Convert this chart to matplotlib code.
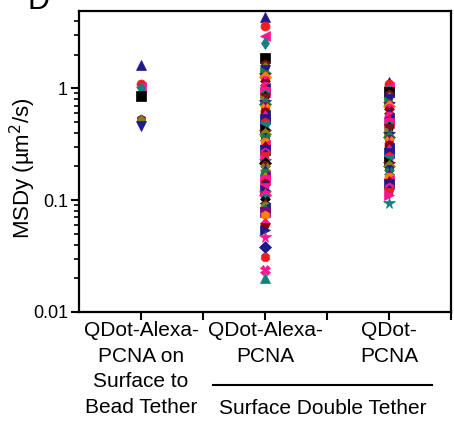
import matplotlib
matplotlib.use("Agg")
import matplotlib.pyplot as plt
from matplotlib.ticker import LogLocator, FixedLocator, NullFormatter
from matplotlib.lines import Line2D

plt.rcParams['font.family'] = ['Liberation Sans', 'DejaVu Sans']

categories = ["QDot-Alexa-\nPCNA on\nSurface to\nBead Tether",
              "QDot-Alexa-\nPCNA",
              "QDot-\nPCNA"]
group_label = "Surface Double Tether"
ylabel = "MSDy (µm$^2$/s)"

bead_tether = [1.61, 1.09, 1.02, 1.0, 0.85, 0.53, 0.52, 0.46]

alexa_pcna = [4.35, 3.6, 2.93, 2.54, 1.86, 1.64, 1.54, 1.45, 1.39, 1.32, 1.25, 1.18,
              1.12, 1.09, 1.04, 1.0, 0.96, 0.92, 0.88, 0.85, 0.81, 0.78, 0.76, 0.72,
              0.69, 0.66, 0.64, 0.61, 0.58, 0.56, 0.53, 0.5, 0.47, 0.45, 0.43, 0.41,
              0.39, 0.37, 0.36, 0.34, 0.33, 0.31, 0.3, 0.28, 0.27, 0.26, 0.245, 0.235,
              0.225, 0.215, 0.205, 0.195, 0.185, 0.175, 0.165, 0.158, 0.15, 0.143,
              0.136, 0.129, 0.122, 0.116, 0.11, 0.104, 0.099, 0.094, 0.089, 0.085,
              0.081, 0.078, 0.073, 0.063, 0.056, 0.054, 0.047, 0.038, 0.031, 0.0237,
              0.020]

qdot_pcna = [1.13, 1.08, 1.02, 0.96, 0.92, 0.88, 0.84, 0.8, 0.76, 0.72, 0.69, 0.66,
             0.63, 0.6, 0.57, 0.54, 0.51, 0.49, 0.47, 0.45, 0.43, 0.41, 0.39, 0.37,
             0.355, 0.34, 0.325, 0.31, 0.295, 0.28, 0.265, 0.25, 0.24, 0.23, 0.22,
             0.21, 0.2, 0.19, 0.18, 0.17, 0.16, 0.152, 0.145, 0.138, 0.13, 0.123,
             0.116, 0.11, 0.094]

groups = [bead_tether, alexa_pcna, qdot_pcna]

markers = ['^', 'o', '<', 'd', 's', 'h', 'p', 'v', '>', '*', 'D', '8', 'X']
colors = ['#1e1a8a', '#f01e1e', '#ff1493', '#12807f', '#000000', '#7f1010',
          '#808020', '#1e1a8a', '#168040', '#800080', '#ff8000', '#ff1493',
          '#8b0000', '#1e1a8a', '#ff1493']

fig = plt.figure(figsize=(4.54, 4.25), dpi=100)
ax = fig.add_axes([79/454, 1-312/425, (451-79)/454, (312-11)/425])

for gi, vals in enumerate(groups):
    xpos = gi + 1
    for i, v in enumerate(vals):
        m = markers[i % len(markers)]
        c = colors[i % len(colors)]
        ms = 8.5 if m == '*' else 6.5
        ax.plot([xpos], [v], linestyle='none', marker=m, color=c,
                markersize=ms, markeredgewidth=0.5, markeredgecolor=c)

ax.set_yscale('log')
ax.set_ylim(0.01, 4.9)
ax.set_xlim(0.5, 3.5)

ax.set_yticks([0.01, 0.1, 1])
ax.set_yticklabels(['0.01', '0.1', '1'])
ax.yaxis.set_minor_locator(LogLocator(base=10, subs=range(2, 10)))
ax.yaxis.set_minor_formatter(NullFormatter())

ax.set_xticks([1, 2, 3])
ax.set_xticklabels(categories, fontsize=15, linespacing=1.44)
ax.xaxis.set_minor_locator(FixedLocator([1.5, 2.5, 3.5]))

ax.tick_params(axis='y', which='major', direction='out', length=6, width=1.5,
               labelsize=13, pad=2, colors='black')
ax.tick_params(axis='x', which='major', direction='out', length=6, width=1.5,
               pad=0.5, colors='black')
ax.tick_params(axis='x', which='minor', direction='out', length=6, width=1.5)
ax.tick_params(axis='y', which='minor', direction='out', length=3.5, width=1.2)

for s in ax.spines.values():
    s.set_linewidth(1.6)
    s.set_color('black')

ax.set_ylabel(ylabel, fontsize=16)
ax.yaxis.set_label_coords(-0.11, 0.478)

# group bracket line under two categories
x0 = 213/454
x1 = 432/454
yline = 1 - 385/425
fig.add_artist(Line2D([x0, x1], [yline, yline], transform=fig.transFigure,
                      color='black', linewidth=1.5))
fig.text((x0 + x1) / 2, 1 - 409/425, group_label, ha='center', va='center',
         fontsize=15)

fig.text(28/454, 1 - 9/425, "D", fontsize=22, ha='left', va='baseline')

fig.savefig("out.png", dpi=100)
